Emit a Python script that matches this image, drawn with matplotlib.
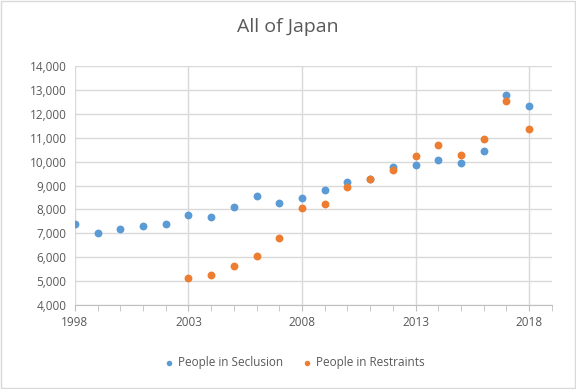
import matplotlib.pyplot as plt
from matplotlib.ticker import MultipleLocator, FixedLocator, FuncFormatter
from matplotlib.patches import Rectangle

plt.rcParams['font.family'] = ['Open Sans', 'DejaVu Sans']

# data
years_seclusion = list(range(1998, 2019))
seclusion = [7370, 7030, 7170, 7320, 7370, 7780, 7680, 8120, 8570, 8280, 8490,
             8820, 9130, 9260, 9790, 9870, 10080, 9930, 10430, 12790, 12340]
years_restraints = list(range(2003, 2019))
restraints = [5120, 5260, 5620, 6030, 6820, 8060, 8220, 8930, 9270, 9670,
              10230, 10690, 10290, 10930, 12550, 11380]
x_ticks = [1998, 2003, 2008, 2013, 2018]

blue = '#5B9BD5'
orange = '#ED7D31'
grey_txt = '#595959'
grid_c = '#D9D9D9'

fig = plt.figure(figsize=(5.76, 3.89), dpi=100)
ax = fig.add_axes([0.130, 0.216, 0.828, 0.614])

ax.scatter(years_seclusion, seclusion, s=32, color=blue, zorder=3,
           label='People in Seclusion', linewidths=0)
ax.scatter(years_restraints, restraints, s=32, color=orange, zorder=3,
           label='People in Restraints', linewidths=0)

ax.set_xlim(1998, 2019)
ax.set_ylim(4000, 14000)
ax.xaxis.set_major_locator(FixedLocator(x_ticks))
ax.xaxis.set_minor_locator(MultipleLocator(1))
ax.yaxis.set_major_locator(MultipleLocator(1000))
ax.yaxis.set_major_formatter(FuncFormatter(lambda v, p: f'{int(v):,}'))

ax.grid(True, which='major', color=grid_c, lw=1, zorder=0)
for s in ['top', 'right', 'left']:
    ax.spines[s].set_visible(False)
ax.spines['bottom'].set_color('#BFBFBF')
ax.tick_params(axis='y', length=0, labelcolor=grey_txt, labelsize=8.5, pad=6)
ax.tick_params(axis='x', which='major', length=4, color='#BFBFBF',
               labelcolor=grey_txt, labelsize=8.5, pad=4)
ax.tick_params(axis='x', which='minor', length=4, color='#BFBFBF')

fig.suptitle('All of Japan', y=0.955, fontsize=14, color=grey_txt)

fig.legend(loc='lower center', bbox_to_anchor=(0.505, 0.025), ncol=2,
           frameon=False, fontsize=8.5, labelcolor=grey_txt, handletextpad=-0.2,
           columnspacing=1.0, markerscale=0.7)

fig.patches.append(Rectangle((0.002, 0.002), 0.996, 0.996, transform=fig.transFigure,
                             fill=False, edgecolor=grid_c, lw=1))

fig.savefig('out.png', dpi=100)
